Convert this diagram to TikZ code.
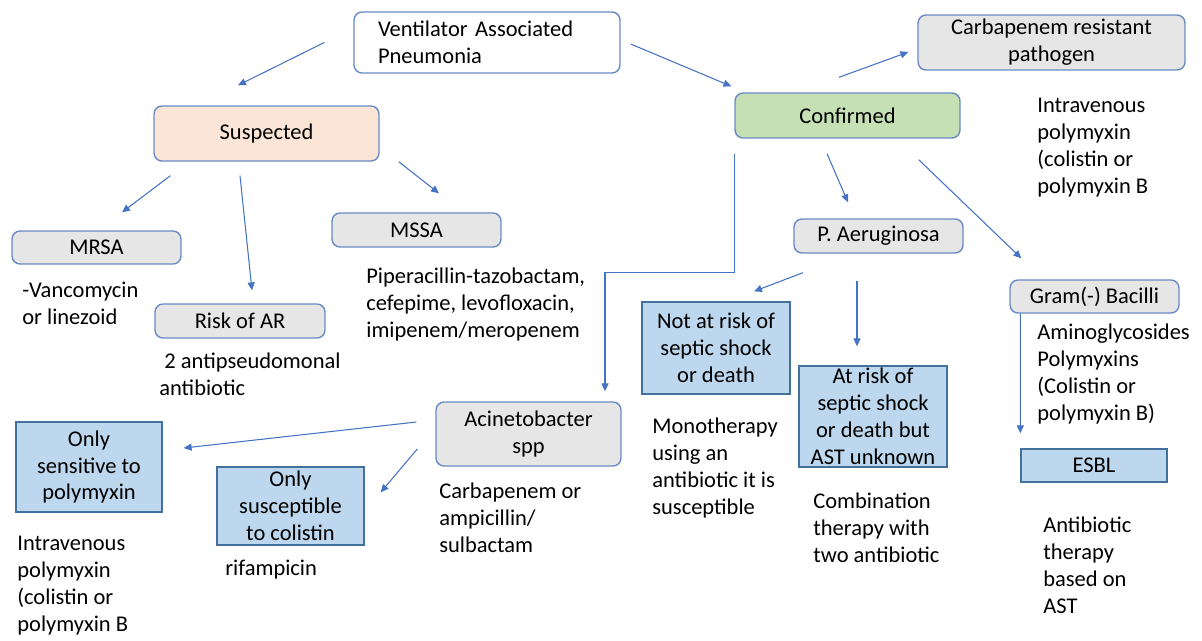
\documentclass[tikz,border=0pt]{standalone}
\usepackage{fontspec}
\setmainfont{Carlito}
\usetikzlibrary{arrows.meta,calc}
\definecolor{ArrowClr}{HTML}{4472C4}
\definecolor{EdgeClr}{HTML}{6A8BC4}
\definecolor{RectEdge}{HTML}{41719C}
\definecolor{GreyFill}{HTML}{E7E6E6}
\definecolor{PeachFill}{HTML}{FBE5D6}
\definecolor{GreenFill}{HTML}{C5E0B4}
\definecolor{BlueFill}{HTML}{BDD7EE}

\begin{document}
\begin{tikzpicture}[x=0.02cm,y=-0.02cm,
  font=\fontsize{12.8}{15.3}\selectfont,
  rbox/.style={draw=EdgeClr,line width=0.8pt,rounded corners=0.16cm,fill=GreyFill,align=center,inner sep=0pt},
  sbox/.style={draw=RectEdge,line width=0.8pt,fill=BlueFill,align=center,inner sep=0pt},
  note/.style={anchor=base west,align=left,inner sep=0pt},
  arr/.style={draw=ArrowClr,line width=0.6pt,-{Triangle[length=4.5pt,width=4pt]}}]
\useasboundingbox (0,0) rectangle (1202,640);

\node[rbox,fill=white,minimum width=5.32cm,minimum height=1.22cm,
  text width=4.36cm,inner xsep=0.48cm,align=left] (vap) at (487,42.5) {Ventilator Associated\\Pneumonia};
\node[rbox,minimum width=5.34cm,minimum height=1.10cm] (carb) at (1051.5,42.5) {Carbapenem resistant\\pathogen};
\node[rbox,fill=GreenFill,minimum width=4.50cm,minimum height=0.90cm] (conf) at (847.5,115.5) {Confirmed};
\node[rbox,fill=PeachFill,minimum width=4.50cm,minimum height=1.10cm] (susp) at (266.5,133.5) {Suspected};

\node[rbox,minimum width=3.38cm,minimum height=0.66cm] (mrsa) at (96.5,247.5) {MRSA};
\node[rbox,minimum width=3.38cm,minimum height=0.68cm] (mssa) at (416.5,230) {MSSA};
\node[rbox,minimum width=3.40cm,minimum height=0.68cm] (riskar) at (240,321) {Risk of AR};
\node[rbox,minimum width=3.38cm,minimum height=0.68cm] (paer) at (878.5,236) {P. Aeruginosa};
\node[rbox,minimum width=3.38cm,minimum height=0.66cm] (gram) at (1094.5,296.5) {Gram(-) Bacilli};
\node[rbox,minimum width=3.70cm,minimum height=1.28cm] (acin) at (528.5,434) {Acinetobacter\\spp};

\node[sbox,minimum width=2.96cm,minimum height=1.84cm] (notrisk) at (716,348) {Not at risk of\\septic shock\\or death};
\node[sbox,minimum width=2.96cm,minimum height=2.02cm] (atrisk) at (873,416.5) {At risk of\\septic shock\\or death but\\AST unknown};
\node[sbox,minimum width=2.92cm,minimum height=0.66cm] (esbl) at (1094,465.5) {ESBL};
\node[sbox,minimum width=2.92cm,minimum height=1.80cm] (onlysens) at (89,467) {Only\\sensitive to\\polymyxin};
\node[sbox,minimum width=2.94cm,minimum height=1.56cm] (onlysusc) at (290.5,506) {Only\\susceptible\\to colistin};

\node[note] (txtcarb) at (1037,193) {Intravenous\\polymyxin\\(colistin or\\polymyxin B};
\node[note] (txtmrsa) at (22,324) {-Vancomycin\\or linezoid};
\node[note] (txtmssa) at (366,337) {Piperacillin-tazobactam,\\cefepime, levofloxacin,\\imipenem/meropenem};
\node[note] (txtriskar) at (159,395) {\ 2 antipseudomonal\\antibiotic};
\node[note] (txtnotrisk) at (652,514) {Monotherapy\\using an\\antibiotic it is\\susceptible};
\node[note] (txtatrisk) at (813,562) {Combination\\therapy with\\two antibiotic};
\node[note] (txtgram) at (1037,420) {Aminoglycosides\\Polymyxins\\(Colistin or\\polymyxin B)};
\node[note] (txtesbl) at (1043,613) {Antibiotic\\therapy\\based on\\AST};
\node[note] (txtacin) at (439,552) {Carbapenem or\\ampicillin/\\sulbactam};
\node[note] (txtsens) at (17,631) {Intravenous\\polymyxin\\(colistin or\\polymyxin B};
\node[note] (txtsusc) at (225,575) {rifampicin};

\draw[arr] ($(vap.west)+(-29,0)$) -- ($(susp.north)+(-28.5,-20)$);
\draw[arr] ($(vap.east)+(10,1.5)$) -- ($(conf.north west)+(-3,-6)$);
\draw[arr] ($(conf.north)+(-8.5,-15)$) -- ($(carb.west)+(-9,9.5)$);
\draw[arr] ($(susp.south west)+(17,14)$) -- ($(mrsa.north)+(25.5,-18)$);
\draw[arr] ($(susp.south)+(-26.5,14)$) -- ($(riskar.north)+(12,-13)$);
\draw[arr] ($(susp.south east)+(19,0)$) -- ($(mssa.north)+(22.5,-19)$);
\draw[arr] ($(conf.south)+(-20.5,15)$) -- ($(paer.north)+(-30.5,-16)$);
\draw[arr] ($(conf.south east)+(-42,21)$) -- ($(gram.north west)+(12,-21)$);
\draw[arr] ($(conf.south west)+(0,15)$) |- ($(acin.north)+(76.5,-129)$) -- ($(acin.north)+(76.5,-10)$);
\draw[arr] ($(paer.south)+(-75.5,19)$) -- ($(notrisk.north)+(38,-10)$);
\draw[arr] ($(paer.south)+(-21.5,27)$) -- ($(atrisk.north)+(-16,-19)$);
\draw[arr] ($(gram.south west)+(11,0)$) -- ($(esbl.north west)+(0,-15)$);
\draw[arr] ($(acin.west)+(-19,-12)$) -- ($(onlysens.east)+(21,-19)$);
\draw[arr] ($(acin.west)+(-18,15)$) -- ($(onlysusc.north east)+(16,26)$);
\end{tikzpicture}
\end{document}
